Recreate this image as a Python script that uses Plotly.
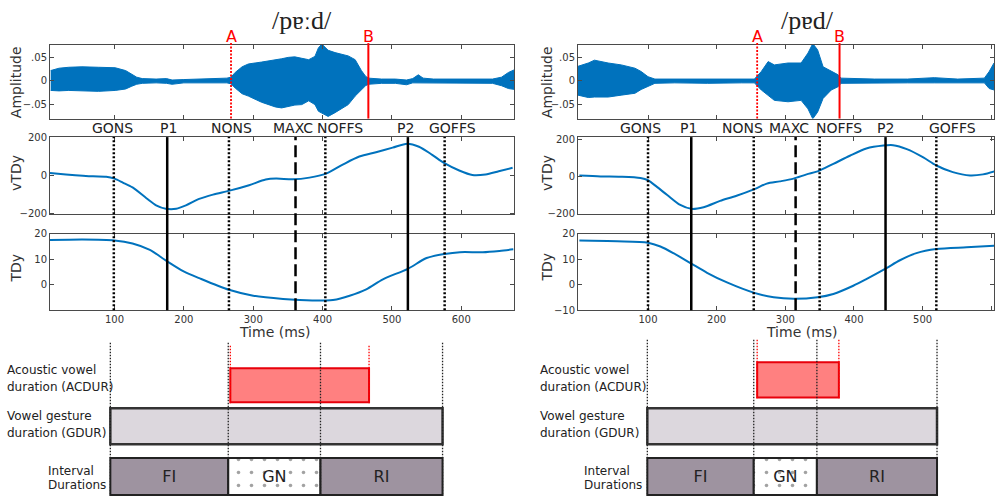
import plotly.graph_objects as go

W, H = 996, 503

# ---------------- data ----------------
EVENTS = ["GONS", "P1", "NONS", "MAXC", "NOFFS", "P2", "GOFFS"]
L_EVENT_MS = [99, 176, 265, 361, 404, 523, 576]
R_EVENT_MS = [100, 163, 254, 315, 350, 446, 520]
L_AB_MS = [268, 466]
R_AB_MS = [259, 379]

# acoustic waveform envelopes (ms, upper, lower)
L_WAVE_T = [8, 20, 34, 53, 77, 101, 116, 125, 132, 140, 160, 175, 183, 200, 221, 245, 262, 268,
            274, 284, 293, 312, 332, 341, 351, 360, 370, 380, 389, 394, 399, 408, 418, 428, 437,
            447, 456, 462, 466, 485, 505, 521, 530, 538, 545, 560, 581, 600, 629, 645, 658, 668, 677]
L_WAVE_UP = [0.022, 0.027, 0.029, 0.030, 0.029, 0.028, 0.022, 0.014, 0.008, 0.005, 0.004, 0.005,
             0.002, 0.003, 0.004, 0.004, 0.006, 0.008, 0.018, 0.030, 0.036, 0.040, 0.044, 0.047,
             0.050, 0.051, 0.048, 0.045, 0.052, 0.070, 0.078, 0.065, 0.060, 0.057, 0.053, 0.045,
             0.022, 0.010, 0.006, 0.004, 0.004, 0.002, 0.005, 0.013, 0.006, 0.004, 0.004, 0.003,
             0.004, 0.004, 0.008, 0.018, 0.024]
L_WAVE_LO = [-0.020, -0.021, -0.020, -0.021, -0.022, -0.020, -0.017, -0.011, -0.007, -0.005,
             -0.004, -0.005, -0.007, -0.004, -0.004, -0.005, -0.004, -0.006, -0.015, -0.027,
             -0.032, -0.045, -0.055, -0.057, -0.054, -0.051, -0.050, -0.042, -0.050, -0.064,
             -0.068, -0.075, -0.067, -0.058, -0.050, -0.032, -0.018, -0.010, -0.007, -0.005,
             -0.005, -0.008, -0.004, -0.004, -0.005, -0.004, -0.005, -0.005, -0.005, -0.005,
             -0.010, -0.016, -0.018]

R_WAVE_T = [-2, 13, 22, 42, 61, 81, 90, 100, 110, 139, 187, 236, 255, 265, 275, 284, 304, 323,
            333, 340, 347, 355, 367, 377, 381, 430, 478, 517, 551, 590, 597, 604]
R_WAVE_UP = [0.031, 0.038, 0.044, 0.038, 0.034, 0.027, 0.020, 0.009, 0.004, 0.004, 0.004, 0.004,
             0.004, 0.020, 0.041, 0.034, 0.038, 0.038, 0.059, 0.079, 0.066, 0.030, 0.020, 0.013,
             0.006, 0.004, 0.004, 0.007, 0.004, 0.006, 0.020, 0.038]
R_WAVE_LO = [-0.030, -0.035, -0.034, -0.034, -0.030, -0.026, -0.018, -0.012, -0.005, -0.004,
             -0.005, -0.004, -0.004, -0.019, -0.030, -0.041, -0.044, -0.041, -0.059, -0.080,
             -0.066, -0.037, -0.019, -0.012, -0.005, -0.004, -0.004, -0.004, -0.004, -0.004,
             -0.016, -0.019]

# tongue dorsum velocity (vTDy)
L_VEL_T = [7, 30, 69, 88, 100, 112, 126, 146, 160, 174, 189, 203, 222, 242, 266, 294, 318, 333,
           357, 381, 405, 429, 453, 477, 501, 522, 539, 558, 575, 597, 616, 635, 654, 674]
L_VEL = [12, 5, -5, -7, -17, -38, -64, -121, -159, -177, -177, -159, -125, -102, -81, -52, -22,
         -17, -21, -12, 9, 57, 100, 123, 147, 168, 152, 109, 66, 26, 2, 5, 22, 40]
R_VEL_T = [0, 31, 60, 89, 100, 113, 128, 147, 163, 181, 205, 229, 255, 273, 292, 312, 331, 347,
           370, 394, 418, 443, 457, 477, 501, 520, 544, 569, 588, 605]
R_VEL = [5, 0, -2, -9, -21, -57, -101, -155, -176, -167, -133, -105, -69, -39, -27, -12, 11, 27,
         68, 112, 151, 167, 169, 148, 103, 59, 23, 5, 11, 28]

# tongue dorsum position (TDy)
L_POS_T = [6, 54, 100, 126, 151, 176, 199, 223, 265, 300, 343, 367, 405, 415, 439, 463, 487,
           523, 550, 576, 598, 631, 655, 675]
L_POS = [17.5, 17.75, 17.4, 16.2, 13.7, 9.2, 5.4, 2.55, -1.9, -4.2, -5.5, -5.9, -6.1, -5.9,
         -4.2, -1.7, 2.2, 6.3, 10.5, 12.1, 12.8, 12.8, 13.3, 13.9]
R_POS_T = [0, 55, 100, 118, 137, 163, 186, 215, 255, 283, 312, 347, 370, 399, 418, 446, 467,
           491, 520, 564, 605]
R_POS = [17.3, 17.05, 16.5, 15.0, 12.4, 8.3, 4.7, 0.9, -3.2, -4.9, -5.5, -4.9, -3.6, -0.4, 2.2,
         6.3, 9.6, 12.4, 14.0, 14.7, 15.3]

# schematic durations (ms)
L_DIAG_BOUNDS = [94, 264, 397, 573]   # GONS, NONS, NOFFS, GOFFS as drawn
R_DIAG_BOUNDS = [99, 254, 346, 521]
L_ACDUR = [267, 467]
R_ACDUR = [259, 378]
INTERVALS = ["FI", "GN", "RI"]

TITLES = ["/pɐːd/", "/pɐd/"]
X_TICKS = [100, 200, 300, 400, 500, 600]

# ---------------- layout helpers ----------------
def px(x):
    return x / W

def py(y):
    return 1 - y / H

BLUE = "#0072bd"
AXC = "#4a4a4a"
TXT = "#222222"
FONT = "DejaVu Sans"

LX = [px(50), px(514)]
RX = [px(578), px(994)]
AMP_Y = [py(115.3), py(40)]
VEL_Y = [py(213.3), py(134.3)]
POS_Y = [py(311.7), py(233.3)]
DIAG_Y = [0, py(338)]

fig = go.Figure()


def base_axis(**kw):
    d = dict(showline=True, linecolor=AXC, linewidth=1, mirror="ticks", ticks="inside",
             ticklen=4, tickcolor=AXC, showgrid=False, zeroline=False,
             tickfont=dict(size=10, color="#333", family=FONT))
    d.update(kw)
    return d


panels = [
    dict(side="L", dom=LX, xr=[7, 676], ax0=1, wt=L_WAVE_T, wu=L_WAVE_UP, wl=L_WAVE_LO,
         vt=L_VEL_T, v=L_VEL, pt=L_POS_T, p=L_POS, ev=L_EVENT_MS, ab=L_AB_MS,
         vr=[-206, 203], pr=[-9.9, 20], bounds=L_DIAG_BOUNDS, ac=L_ACDUR, acrow=(371, 406),
         diagtop=345, acdot=(348, 407), dx=7),
    dict(side="R", dom=RX, xr=[-2, 604], ax0=4, wt=R_WAVE_T, wu=R_WAVE_UP, wl=R_WAVE_LO,
         vt=R_VEL_T, v=R_VEL, pt=R_POS_T, p=R_POS, ev=R_EVENT_MS, ab=R_AB_MS,
         vr=[-205, 213], pr=[-10, 20], bounds=R_DIAG_BOUNDS, ac=R_ACDUR, acrow=(365, 401),
         diagtop=342, acdot=(342, 402), dx=8),
]

shapes = []
annotations = []
layout_axes = {}

EV_STYLE = {
    "GONS": dict(dash="2px,2px", width=2.5), "NONS": dict(dash="2px,2px", width=2.5),
    "NOFFS": dict(dash="2px,2px", width=2.5), "GOFFS": dict(dash="2px,2px", width=2.5),
    "P1": dict(dash="solid", width=2.5), "P2": dict(dash="solid", width=2.5),
    "MAXC": dict(dash="12px,5px", width=2.5),
}

for pn in panels:
    a, b, c = pn["ax0"], pn["ax0"] + 1, pn["ax0"] + 2
    xa, xb, xc = f"x{a}" if a > 1 else "x", f"x{b}", f"x{c}"
    ya, yb, yc = f"y{a}" if a > 1 else "y", f"y{b}", f"y{c}"
    kx = lambda n: "xaxis" if n == 1 else f"xaxis{n}"
    ky = lambda n: "yaxis" if n == 1 else f"yaxis{n}"

    # waveform band
    fig.add_trace(go.Scatter(x=pn["wt"], y=pn["wu"], mode="lines", line=dict(color=BLUE, width=1),
                             xaxis=xa, yaxis=ya, showlegend=False, hoverinfo="skip"))
    fig.add_trace(go.Scatter(x=pn["wt"], y=pn["wl"], mode="lines", line=dict(color=BLUE, width=1),
                             fill="tonexty", fillcolor=BLUE, xaxis=xa, yaxis=ya,
                             showlegend=False, hoverinfo="skip"))
    # velocity and position
    fig.add_trace(go.Scatter(x=pn["vt"], y=pn["v"], mode="lines",
                             line=dict(color=BLUE, width=2, shape="spline", smoothing=0.8),
                             xaxis=xb, yaxis=yb, showlegend=False))
    fig.add_trace(go.Scatter(x=pn["pt"], y=pn["p"], mode="lines",
                             line=dict(color=BLUE, width=2, shape="spline", smoothing=0.8),
                             xaxis=xc, yaxis=yc, showlegend=False))

    layout_axes[kx(a)] = base_axis(domain=pn["dom"], range=pn["xr"], anchor=ya, tickvals=X_TICKS,
                                   showticklabels=False)
    layout_axes[kx(b)] = base_axis(domain=pn["dom"], range=pn["xr"], anchor=yb, tickvals=X_TICKS,
                                   showticklabels=False)
    layout_axes[kx(c)] = base_axis(domain=pn["dom"], range=pn["xr"], anchor=yc, tickvals=X_TICKS)
    layout_axes[ky(a)] = base_axis(domain=AMP_Y, range=[-0.0795, 0.076], anchor=xa,
                                   tickvals=[-0.05, 0, 0.05], ticktext=["\u2212.05", "0", ".05"])
    layout_axes[ky(b)] = base_axis(domain=VEL_Y, range=pn["vr"], anchor=xb,
                                   tickvals=[-200, 0, 200], ticktext=["\u2212200", "0", "200"])
    layout_axes[ky(c)] = base_axis(domain=POS_Y, range=pn["pr"], anchor=xc,
                                   tickvals=[-10, 0, 10, 20], ticktext=["\u221210", "0", "10", "20"])

    # event lines through vTDy and TDy panels
    for name, t in zip(EVENTS, pn["ev"]):
        st = EV_STYLE[name]
        shapes.append(dict(type="line", xref=xc, yref="paper", x0=t, x1=t, y0=POS_Y[0], y1=VEL_Y[1],
                           line=dict(color="black", width=st["width"], dash=st["dash"]), layer="above"))
    # A / B acoustic boundaries
    for i, t in enumerate(pn["ab"]):
        shapes.append(dict(type="line", xref=xa, yref="paper", x0=t, x1=t, y0=AMP_Y[0], y1=py(38),
                           line=dict(color="#ff0000", width=2 if i else 1.8,
                                     dash="solid" if i else "2px,1.5px"), layer="above"))
        annotations.append(dict(text="AB"[i], x=t, xref=xa, y=py(31), yref="paper", showarrow=False,
                                font=dict(size=16, color="#ff0000", family=FONT),
                                xanchor="center", yanchor="middle"))

    # schematic diagram
    dx = pn["dx"]
    xd, yd = f"x{dx}", f"y{dx}"
    layout_axes[f"xaxis{dx}"] = dict(domain=pn["dom"], range=pn["xr"], anchor=yd, visible=False)
    layout_axes[f"yaxis{dx}"] = dict(domain=DIAG_Y, range=[H, 338], anchor=xd, visible=False)
    bd = pn["bounds"]
    r0, r1 = pn["acrow"]
    fig.add_trace(go.Bar(orientation="h", y=[(r0 + r1) / 2], base=[pn["ac"][0]],
                         x=[pn["ac"][1] - pn["ac"][0]], width=r1 - r0,
                         marker=dict(color="#ff8080", line=dict(color="#e8000b", width=2)),
                         xaxis=xd, yaxis=yd, showlegend=False, hoverinfo="skip"))
    fig.add_trace(go.Bar(orientation="h", y=[430.5], base=[bd[0]], x=[bd[3] - bd[0]], width=37,
                         marker=dict(color="#dcd7dd", line=dict(color="#333333", width=2.5)),
                         xaxis=xd, yaxis=yd, showlegend=False, hoverinfo="skip"))
    fig.add_trace(go.Bar(orientation="h", y=[482, 482, 482], base=bd[:3],
                         x=[bd[1] - bd[0], bd[2] - bd[1], bd[3] - bd[2]], width=38,
                         text=INTERVALS, textposition="inside", insidetextanchor="middle",
                         textfont=dict(size=16, color=TXT, family=FONT), constraintext="none",
                         marker=dict(color=["#9e93a0", "#ffffff", "#9e93a0"],
                                     line=dict(color="#222222", width=2),
                                     pattern=dict(shape=["", ".", ""], fgcolor="#333333",
                                                  size=13, solidity=0.06)),
                         xaxis=xd, yaxis=yd, showlegend=False, hoverinfo="skip"))
    for t in bd:
        shapes.append(dict(type="line", xref=xd, yref=yd, x0=t, x1=t, y0=pn["diagtop"], y1=501,
                           line=dict(color="#222222", width=1.3, dash="1.5px,1.5px"), layer="above"))
    for t in pn["ac"]:
        shapes.append(dict(type="line", xref=xd, yref=yd, x0=t, x1=t, y0=pn["acdot"][0],
                           y1=pn["acdot"][1],
                           line=dict(color="#ff0000", width=1.3, dash="1.5px,1.5px"), layer="above"))


def txt(s, x, y, size=14, anchor="center", angle=0, color=TXT, family=FONT):
    annotations.append(dict(text=s, x=px(x), y=py(y), xref="paper", yref="paper", showarrow=False,
                            xanchor=anchor, yanchor="middle", textangle=angle,
                            font=dict(size=size, color=color, family=family)))


# titles
txt(TITLES[0], 302, 15, size=26, family="Liberation Serif, DejaVu Serif")
txt(TITLES[1], 807, 15, size=26, family="Liberation Serif, DejaVu Serif")

# event labels
for name, x in zip(EVENTS, [112, 168, 231, 293, 340, 405, 452]):
    txt(name, x, 125)
for name, x in zip(EVENTS, [640, 688, 742, 789, 839, 885, 952]):
    txt(name, x, 125)

# axis titles
for xc_ in (16, 547):
    txt("Amplitude", xc_, 78, angle=-90, color="#333")
    txt("vTDy", xc_, 171, angle=-90, color="#333")
    txt("TDy", xc_, 268, angle=-90, color="#333")
txt("Time (ms)", 275, 334, color="#333")
txt("Time (ms)", 802, 334, color="#333")

# diagram labels
for x0, xi in ((5, 46), (538, 582)):
    txt("Acoustic vowel", x0, 373, size=12, anchor="left")
    txt("duration (ACDUR)", x0, 390, size=12, anchor="left")
    txt("Vowel gesture", x0, 420, size=12, anchor="left")
    txt("duration (GDUR)", x0, 437, size=12, anchor="left")
    txt("Interval", xi, 476, size=12, anchor="left")
    txt("Durations", xi, 491, size=12, anchor="left")

fig.update_layout(width=W, height=H, margin=dict(l=0, r=0, t=0, b=0),
                  paper_bgcolor="white", plot_bgcolor="white", barmode="overlay",
                  shapes=shapes, annotations=annotations, showlegend=False,
                  font=dict(family=FONT), **layout_axes)

fig.write_html("out.html", config={"displayModeBar": False},
               post_script="document.body.style.margin='0';document.body.style.padding='0';"
                           "document.body.style.overflow='hidden';")
